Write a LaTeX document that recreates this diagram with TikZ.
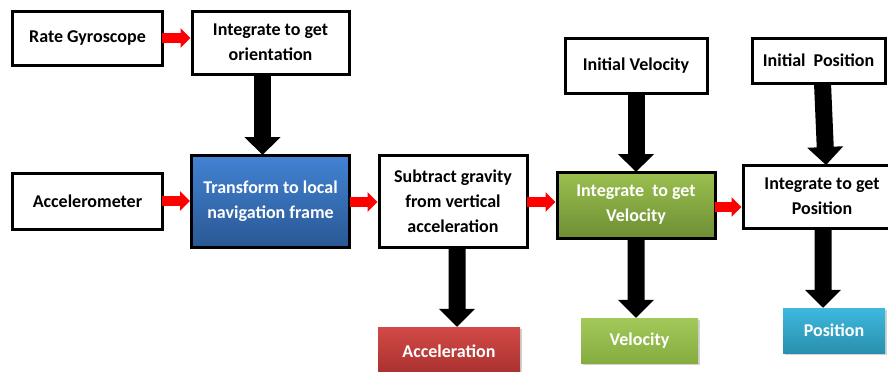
\documentclass[tikz,border=0pt]{standalone}
\usepackage{fontspec}
\setmainfont{Carlito}
\usetikzlibrary{arrows.meta,shadows}

\definecolor{blueTop}{HTML}{4283D3}
\definecolor{blueBot}{HTML}{2A5894}
\definecolor{greenTop}{HTML}{9BC04F}
\definecolor{greenBot}{HTML}{6E8E34}
\definecolor{redTop}{HTML}{D24A47}
\definecolor{redBot}{HTML}{A8302D}
\definecolor{cyanTop}{HTML}{3DB9DE}
\definecolor{cyanBot}{HTML}{2A8FAE}
\definecolor{lgTop}{HTML}{A2C95A}
\definecolor{lgBot}{HTML}{86AC40}

\tikzset{
  box/.style={draw=black, line width=3bp, fill=white, align=center,
    font=\fontsize{18bp}{25bp}\selectfont\bfseries, inner sep=0pt},
  colbox/.style={box, text=white},
  outbox/.style={align=center, inner sep=0pt, text=white,
    font=\fontsize{18bp}{25bp}\selectfont\bfseries,
    drop shadow={shadow xshift=1.5bp, shadow yshift=-1.5bp, opacity=0.35}},
  bigarrow/.style={line width=17bp, draw=black,
    -{Triangle[width=35bp,length=18bp]}},
  redarrow/.style={line width=10bp, draw=red,
    -{Triangle[width=19bp,length=10bp]}},
}

\begin{document}
\begin{tikzpicture}[x=1bp,y=-1bp]
\useasboundingbox (0,0) rectangle (888,371);
\begin{scope}
\clip (0,0) rectangle (888,371);

% input sensors and orientation chain
\node[box, minimum width=149bp, minimum height=54bp] (rg) at (87.5,38) {Rate Gyroscope};
\node[box, minimum width=157bp, minimum height=63bp] (ori) at (270.5,42.5) {Integrate to get\\orientation};
\node[box, minimum width=149bp, minimum height=56bp] (acc) at (87.5,201) {Accelerometer};
\node[colbox, top color=blueTop, bottom color=blueBot, minimum width=158bp, minimum height=92bp,
  drop shadow={shadow xshift=1.5bp, shadow yshift=-1.5bp, opacity=0.3}] (tr) at (270.5,201)
  {Transform to local\\navigation frame};

% gravity removal and integration stages
\node[box, minimum width=148bp, minimum height=92bp] (sub) at (453,201) {Subtract gravity\\from vertical\\acceleration};
\node[box, minimum width=142bp, minimum height=55bp] (iv) at (636,65.5) {Initial Velocity};
\node[colbox, top color=greenTop, bottom color=greenBot, minimum width=158bp, minimum height=66bp,
  drop shadow={shadow xshift=1.5bp, shadow yshift=-1.5bp, opacity=0.3}] (vel) at (636,205)
  {Integrate\ \ to get\\Velocity};
\node[box, minimum width=133bp, minimum height=45bp] (ip) at (818.5,60.5) {Initial\ \ Position};
\node[box, minimum width=158bp, minimum height=63bp] (pos) at (822,196.5) {Integrate to get\\Position};

% outputs
\node[outbox, top color=redTop, bottom color=redBot, minimum width=142bp, minimum height=48bp] (aout) at (449,351) {Acceleration};
\node[outbox, top color=lgTop, bottom color=lgBot, minimum width=117bp, minimum height=45bp] (vout) at (639.5,340.5) {Velocity};
\node[outbox, top color=cyanTop, bottom color=cyanBot, minimum width=102bp, minimum height=45bp] (pout) at (834,330.5) {Position};

% signal flow (red)
\draw[redarrow] ([xshift=-1.5bp]rg.east) -- (rg.east -| ori.west);
\draw[redarrow] ([xshift=-1.5bp]acc.east) -- (acc.east -| tr.west);
\draw[redarrow] ([xshift=-1.5bp,yshift=-1bp]tr.east) -- ([yshift=-1bp]tr.east -| sub.west);
\draw[redarrow] ([xshift=-1.5bp,yshift=-1bp]sub.east) -- ([yshift=-1bp]sub.east -| vel.west);
\draw[redarrow] ([xshift=-1.5bp,yshift=-2bp]vel.east) -- ([yshift=-2bp]vel.east -| pos.west);

% vertical transfers (black)
\draw[bigarrow] ([xshift=-8bp,yshift=1.5bp]ori.south) -- ([xshift=-8bp,yshift=-1.5bp]tr.north);
\draw[bigarrow] ([yshift=1.5bp]iv.south) -- ([yshift=-1.5bp]vel.north);
\draw[bigarrow] ([xshift=4bp,yshift=1.5bp]ip.south) -- ([xshift=4bp,yshift=-1.5bp]pos.north);
\draw[bigarrow] ([xshift=4bp,yshift=1.5bp]sub.south) -- ([xshift=8bp]aout.north);
\draw[bigarrow] ([yshift=1.5bp]vel.south) -- ([xshift=-3.5bp]vout.north);
\draw[bigarrow] ([xshift=1bp,yshift=1.5bp]pos.south) -- ([xshift=-11bp]pout.north);
\end{scope}
\end{tikzpicture}
\end{document}
